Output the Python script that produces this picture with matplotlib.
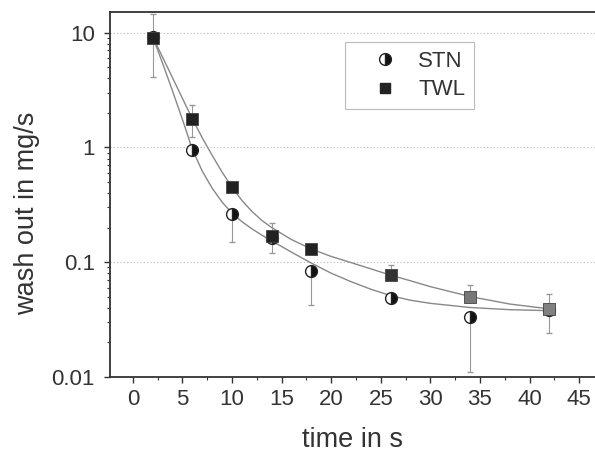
import numpy as np
import matplotlib
matplotlib.use('Agg')
import matplotlib.pyplot as plt

plt.rcParams['font.family'] = ['Liberation Sans', 'DejaVu Sans']

# measured points
t_pts = [2, 6, 10, 14, 18, 26, 34, 42]
stn = [9.2, 0.95, 0.26, 0.163, 0.084, 0.049, 0.033, 0.038]
twl = [9.0, 1.78, 0.45, 0.17, 0.131, 0.077, 0.050, 0.039]

# error bar ends (low, high)
stn_lo = [4.1, 0.95, 0.15, 0.12, 0.042, 0.045, 0.011, 0.038]
stn_hi = [14.4, 0.95, 0.26, 0.163, 0.084, 0.049, 0.033, 0.038]
twl_lo = [9.0, 1.24, 0.45, 0.17, 0.131, 0.077, 0.050, 0.024]
twl_hi = [9.0, 2.36, 0.45, 0.22, 0.131, 0.095, 0.063, 0.053]

# fitted curves
t_fit = [2, 3, 4, 5, 6, 7, 8, 9, 10, 11, 12, 13, 14, 16, 18, 20, 22, 24, 26, 28, 30, 34, 38, 42]
stn_fit = [9.2, 5.4, 3.1, 1.75, 0.96, 0.62, 0.44, 0.333, 0.267, 0.225, 0.195, 0.172, 0.153,
           0.122, 0.098, 0.080, 0.0675, 0.058, 0.051, 0.0465, 0.0437, 0.0402, 0.0385, 0.0377]
twl_fit = [9.2, 6.1, 4.04, 2.67, 1.77, 1.21, 0.85, 0.608, 0.449, 0.344, 0.277, 0.231, 0.200,
           0.157, 0.130, 0.112, 0.099, 0.0873, 0.0769, 0.0687, 0.0611, 0.0501, 0.0431, 0.0391]

sq_colors = ['#222222', '#222222', '#222222', '#222222', '#222222', '#333333', '#777777', '#808080']

fig = plt.figure(figsize=(5.95, 4.54), dpi=100)
ax = fig.add_axes([0.185, 0.17, 0.815, 0.804])

ax.set_yscale('log')
ax.set_ylim(0.01, 15.2)
ax.set_xlim(-2.3, 46.6)

for yv in [0.1, 1, 10]:
    ax.axhline(yv, color='#bbbbbb', lw=0.8, ls=(0, (1, 2)), zorder=0)

ax.plot(t_fit, stn_fit, color='#888888', lw=1.0, zorder=1)
ax.plot(t_fit, twl_fit, color='#888888', lw=1.0, zorder=1)

stn_a = np.array(stn)
twl_a = np.array(twl)
ax.errorbar(t_pts, stn, yerr=[stn_a - np.array(stn_lo), np.array(stn_hi) - stn_a],
            fmt='none', ecolor='#999999', elinewidth=0.8, capsize=2, zorder=2)
ax.errorbar(t_pts, twl, yerr=[twl_a - np.array(twl_lo), np.array(twl_hi) - twl_a],
            fmt='none', ecolor='#999999', elinewidth=0.8, capsize=2, zorder=2)

ax.plot(t_pts, stn, ls='none', marker='o', ms=8.5, fillstyle='right',
        markerfacecolor='#111111', markerfacecoloralt='white',
        markeredgecolor='#222222', markeredgewidth=1.0, zorder=3, label='STN')
ax.scatter(t_pts, twl, marker='s', s=75, c=sq_colors, edgecolors='#444444',
           linewidths=0.6, zorder=4)
ax.plot([], [], ls='none', marker='s', ms=7, color='#222222', label='TWL')

leg = ax.legend(loc='upper left', bbox_to_anchor=(0.4845, 0.918), frameon=True,
                fancybox=False, edgecolor='#aaaaaa', fontsize=16, handlelength=2.8,
                handletextpad=0.1, borderpad=0.4, labelspacing=0.35, borderaxespad=0)
leg.get_frame().set_linewidth(0.8)
for txt in leg.get_texts():
    txt.set_color('#333333')

ax.spines['right'].set_visible(False)
for s in ['left', 'bottom', 'top']:
    ax.spines[s].set_linewidth(1.3)
    ax.spines[s].set_color('#333333')

ax.set_xticks(np.arange(0, 46, 5))
ax.set_xticks(np.arange(2.5, 46, 5), minor=True)
ax.set_yticks([0.01, 0.1, 1, 10])
ax.set_yticklabels(['0.01', '0.1', '1', '10'])
ax.tick_params(axis='both', which='major', direction='out', length=4, width=1.0,
               labelsize=16, colors='#333333')
ax.tick_params(axis='both', which='minor', direction='out', length=2.5, width=0.8,
               colors='#333333')
ax.tick_params(axis='x', pad=5)
ax.tick_params(axis='y', pad=7)

ax.set_xlabel('time in s', fontsize=19.5, color='#333333', labelpad=12)
ax.set_ylabel('wash out in mg/s', fontsize=19.5, color='#333333')
ax.yaxis.set_label_coords(-0.144, 0.449)

fig.savefig('out.png', dpi=100)
